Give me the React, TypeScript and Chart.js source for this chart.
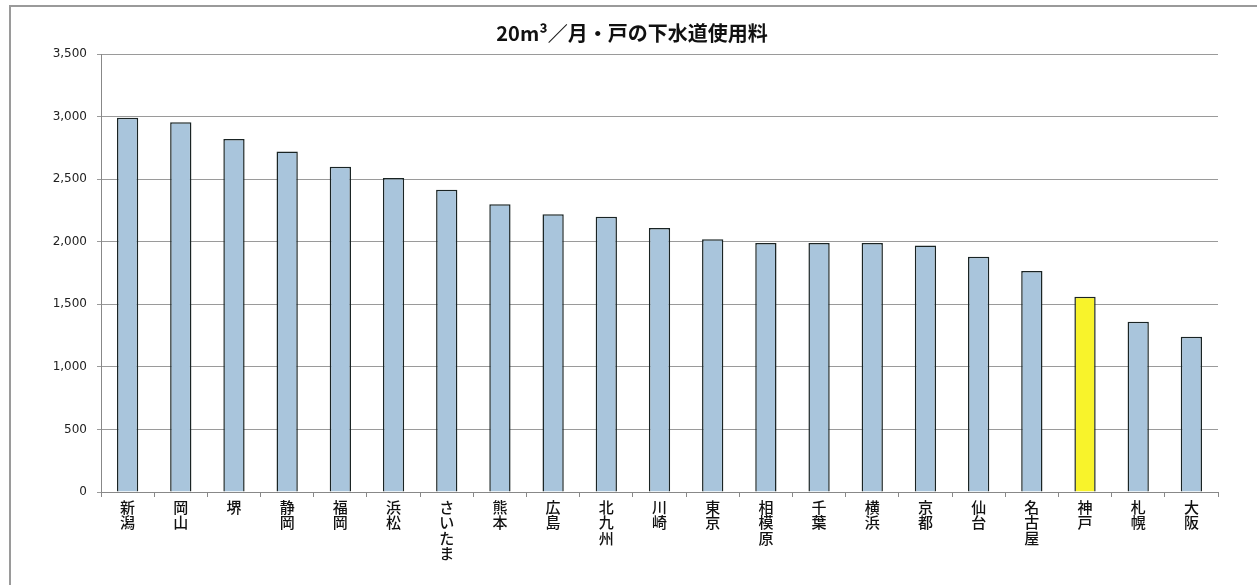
import React, { useEffect, useRef } from "react";
import { Chart, registerables } from "chart.js";

Chart.register(...registerables);

const chartTitle = "20m³／月・戸の下水道使用料";
const categories = [
  "新潟", "岡山", "堺", "静岡", "福岡", "浜松", "さいたま", "熊本", "広島", "北九州", "川崎",
  "東京", "相模原", "千葉", "横浜", "京都", "仙台", "名古屋", "神戸", "札幌", "大阪",
];
const fees = [
  2990, 2955, 2820, 2720, 2600, 2510, 2415, 2300, 2220, 2200, 2110,
  2020, 1990, 1990, 1990, 1970, 1880, 1765, 1560, 1360, 1240,
];
const highlightCity = "神戸";
const yMin = 0;
const yMax = 3500;
const yStep = 500;

const BAR_COLOR = "#a9c5dc";
const HIGHLIGHT_COLOR = "#f8f32b";

export default function App() {
  const canvasRef = useRef<HTMLCanvasElement | null>(null);

  useEffect(() => {
    const canvas = canvasRef.current;
    if (!canvas) return;
    const chart = new Chart(canvas, {
      type: "bar",
      data: {
        labels: categories,
        datasets: [
          {
            label: chartTitle,
            data: fees,
            backgroundColor: categories.map((c) => (c === highlightCity ? HIGHLIGHT_COLOR : BAR_COLOR)),
            borderColor: "#1a2424",
            borderWidth: 1.5,
            borderSkipped: "bottom",
            categoryPercentage: 1,
            barPercentage: 0.4,
          },
        ],
      },
      options: {
        animation: false,
        responsive: false,
        maintainAspectRatio: false,
        layout: { padding: { left: 46, right: 39, top: 0, bottom: 0 } },
        plugins: {
          legend: { display: false },
          tooltip: { enabled: false },
          title: {
            display: true,
            text: chartTitle,
            color: "#111",
            font: { family: "'Noto Sans CJK JP', 'Noto Sans', sans-serif", size: 20, weight: "bold", lineHeight: 1.2 },
            padding: { top: 21, bottom: 9 },
          },
        },
        scales: {
          x: {
            grid: {
              display: true,
              drawOnChartArea: false,
              tickLength: 5,
              color: "#888",
              offset: true,
            },
            border: { display: true, color: "#888", width: 1 },
            ticks: {
              autoSkip: false,
              maxRotation: 0,
              minRotation: 0,
              padding: 2,
              color: "#111",
              font: { family: "'Noto Sans CJK JP', sans-serif", size: 15, weight: "500", lineHeight: 1.04 },
              callback: (_v: any, i: number) => categories[i].split(""),
            },
            afterFit: (scale: any) => {
              scale.height = 93;
            },
          },
          y: {
            min: yMin,
            max: yMax,
            grid: { color: "#9a9a9a", tickLength: 4, lineWidth: 1 },
            border: { display: true, color: "#888", width: 1 },
            ticks: {
              stepSize: yStep,
              padding: 10,
              color: "#222",
              font: { family: "'DejaVu Sans', sans-serif", size: 12 },
              callback: (v: any) => Number(v).toLocaleString("en-US"),
            },
            afterFit: (scale: any) => {
              scale.width = 55;
            },
          },
        },
      },
    });
    return () => chart.destroy();
  }, []);

  return (
    <div style={{ position: "fixed", left: 0, top: 0, width: 1257, height: 585, background: "#fff", overflow: "hidden" }}>
      <div
        style={{
          position: "absolute",
          left: 9,
          top: 5,
          width: 1400,
          height: 700,
          borderLeft: "2px solid #9a9a9a",
          borderTop: "2px solid #9a9a9a",
        }}
      />
      <canvas ref={canvasRef} width={1257} height={585} style={{ position: "absolute", left: 0, top: 0, display: "block" }} />
    </div>
  );
}
